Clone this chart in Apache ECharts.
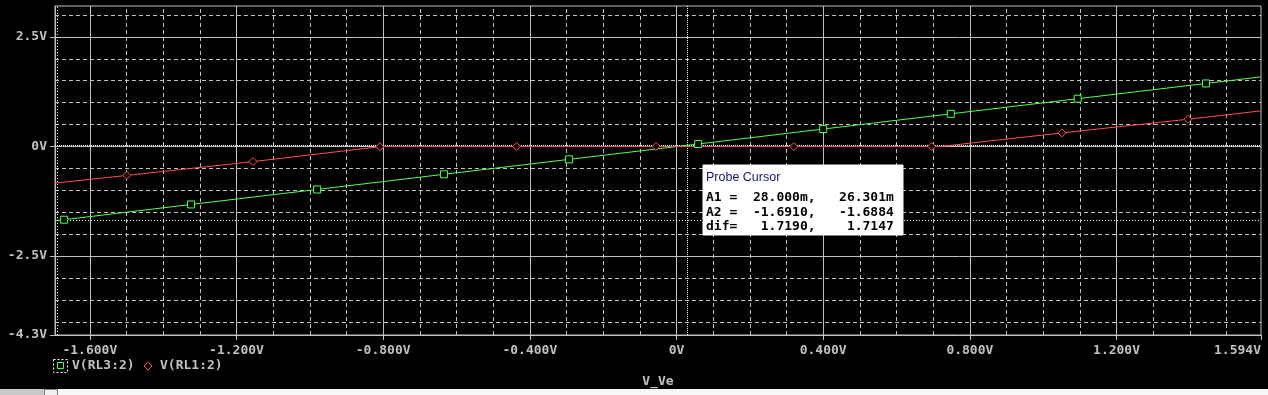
<!DOCTYPE html>
<html>
<head>
<meta charset="utf-8">
<script src="https://cdn.jsdelivr.net/npm/echarts@6/dist/echarts.min.js"></script>
<style>
html,body{margin:0;padding:0;background:#000;}
#chart{width:1268px;height:395px;}
</style>
</head>
<body>
<div id="chart"></div>
<script>
// ---- data ----
const xRange = [-1.695, 1.594];
const yRange = [-4.3, 3.205];
const xTickValues = [-1.6, -1.2, -0.8, -0.4, 0, 0.4, 0.8, 1.2, 1.594];
const yTickValues = [-4.3, -2.5, 0, 2.5];

// V(RL3:2)  (green, square markers)
const greenX = [-1.695, -1.670, -1.324, -0.980, -0.634, -0.293, 0.059, 0.400, 0.748, 1.094, 1.444, 1.594];
const greenY = [-1.692, -1.670, -1.322, -0.980, -0.634, -0.294, 0.057, 0.398, 0.745, 1.090, 1.438, 1.588];
const greenMarkerIdx = [1, 2, 3, 4, 5, 6, 7, 8, 9, 10];

// V(RL1:2)  (red, diamond markers)
const redX = [-1.695, -1.499, -1.155, -0.809, -0.800, -0.436, -0.056, 0.320, 0.696, 0.720, 1.051, 1.395, 1.594];
const redY = [-0.835, -0.660, -0.345, -0.004, 0.000, 0.000, 0.000, 0.000, 0.000, 0.000, 0.310, 0.622, 0.812];
const redMarkerIdx = [1, 2, 3, 5, 6, 7, 8, 10, 11];

// probe cursor values
const cursorA1 = [0.028, 0.026301];
const cursorA2 = [-1.691, -1.6884];
const probeLines = [
  'A1 =  28.000m,   26.301m',
  'A2 =  -1.6910,   -1.6884',
  'dif=   1.7190,    1.7147'
];
const seriesNames = ['V(RL3:2)', 'V(RL1:2)'];
const xAxisName = 'V_Ve';

// ---- styles ----
const GRAY = '#c0c0c0';
const GREEN = '#50ff50';
const RED = '#ff5050';
const MONO = '"DejaVu Sans Mono", "Liberation Mono", monospace';

function buildData(xs, ys, markIdx) {
  return xs.map((x, i) => {
    const item = { value: [x, ys[i]] };
    if (markIdx.indexOf(i) < 0) item.symbol = 'none';
    return item;
  });
}

// grid lines (drawn through the axes via markLine)
const gridLines = [];
for (let k = -16; k <= 15; k++) {
  const v = k / 10;
  const major = (k % 4 === 0);
  gridLines.push({
    xAxis: v,
    lineStyle: major ? { color: GRAY, width: 1, type: 'solid' } : { color: GRAY, width: 1, type: [4, 3] }
  });
}
for (let k = -8; k <= 6; k++) {
  const v = k / 2;
  const major = (k === -5 || k === 0 || k === 5);
  gridLines.push({
    yAxis: v,
    lineStyle: major ? { color: GRAY, width: 1, type: 'solid' } : { color: GRAY, width: 1, type: [4, 3] }
  });
}

const cursorLines = [
  { xAxis: cursorA1[0], lineStyle: { color: '#ffffff', width: 1, type: [1, 1] } },
  { yAxis: cursorA1[1], lineStyle: { color: '#ffffff', width: 1, type: [1, 1] } },
  { xAxis: cursorA2[0], lineStyle: { color: '#ffffff', width: 1, type: [1, 2] } },
  { yAxis: cursorA2[1], lineStyle: { color: '#ffffff', width: 1, type: [1, 2] } }
];

const chart = echarts.init(document.getElementById('chart'), null, { renderer: 'canvas' });

const fmtX = v => (Math.abs(v) < 1e-9 ? '0V' : v.toFixed(3) + 'V');
const fmtY = v => (Math.abs(v) < 1e-9 ? '0V' : v.toFixed(1) + 'V');

const option = {
  backgroundColor: '#000000',
  animation: false,
  grid: {
    left: 55, right: 7, top: 6, bottom: 60,
    show: true, borderColor: GRAY, borderWidth: 1, backgroundColor: 'transparent'
  },
  xAxis: {
    type: 'value',
    min: xRange[0], max: xRange[1],
    name: xAxisName,
    nameLocation: 'middle',
    nameGap: 40,
    nameTextStyle: { color: GRAY, fontFamily: MONO, fontSize: 13, fontWeight: 'bold' },
    axisLine: { show: true, onZero: false, lineStyle: { color: GRAY, width: 1 } },
    axisTick: { show: true, length: 5, lineStyle: { color: GRAY }, customValues: xTickValues },
    axisLabel: {
      color: GRAY, fontFamily: MONO, fontSize: 13, fontWeight: 'bold',
      margin: 9, customValues: xTickValues, formatter: fmtX,
      alignMaxLabel: 'right', showMinLabel: true, showMaxLabel: true
    },
    splitLine: { show: false }
  },
  yAxis: {
    type: 'value',
    min: yRange[0], max: yRange[1],
    axisLine: { show: true, onZero: false, lineStyle: { color: GRAY, width: 1 } },
    axisTick: { show: true, length: 5, lineStyle: { color: GRAY }, customValues: yTickValues },
    axisLabel: {
      color: GRAY, fontFamily: MONO, fontSize: 13, fontWeight: 'bold',
      margin: 8, customValues: yTickValues, formatter: fmtY,
      showMinLabel: true, showMaxLabel: true
    },
    splitLine: { show: false }
  },
  series: [
    {
      name: '_grid', type: 'line', z: 1, silent: true,
      data: [[xRange[0], yRange[0]]], symbol: 'none', lineStyle: { opacity: 0 },
      markLine: { z: 1, silent: true, symbol: ['none', 'none'], label: { show: false }, animation: false, data: gridLines }
    },
    {
      name: '_cursor', type: 'line', z: 2, silent: true,
      data: [[xRange[0], yRange[0]]], symbol: 'none', lineStyle: { opacity: 0 },
      markLine: { z: 2, silent: true, symbol: ['none', 'none'], label: { show: false }, animation: false, data: cursorLines }
    },
    {
      name: seriesNames[0], type: 'line', z: 10,
      data: buildData(greenX, greenY, greenMarkerIdx),
      symbol: 'rect', symbolSize: 7, showAllSymbol: true,
      lineStyle: { color: GREEN, width: 1 },
      itemStyle: { color: '#000000', borderColor: GREEN, borderWidth: 1 }
    },
    {
      name: seriesNames[1], type: 'line', z: 10,
      data: buildData(redX, redY, redMarkerIdx),
      symbol: 'diamond', symbolSize: 8, showAllSymbol: true,
      lineStyle: { color: RED, width: 1 },
      itemStyle: { color: '#000000', borderColor: RED, borderWidth: 1 }
    }
  ],
  graphic: [
    // legend
    { type: 'rect', z: 10, shape: { x: 53.5, y: 359.5, width: 14, height: 13 },
      style: { fill: 'none', stroke: '#ffffff', lineWidth: 1, lineDash: [2, 2] } },
    { type: 'rect', z: 10, shape: { x: 57.5, y: 362.5, width: 6, height: 6 },
      style: { fill: 'none', stroke: GREEN, lineWidth: 1 } },
    { type: 'text', z: 10, x: 72, y: 366,
      style: { text: seriesNames[0], fill: GRAY, font: 'bold 13px ' + MONO, verticalAlign: 'middle', align: 'left' } },
    { type: 'polygon', z: 10, shape: { points: [[148, 362], [152, 366], [148, 370], [144, 366]] },
      style: { fill: 'none', stroke: RED, lineWidth: 1 } },
    { type: 'text', z: 10, x: 160, y: 366,
      style: { text: seriesNames[1], fill: GRAY, font: 'bold 13px ' + MONO, verticalAlign: 'middle', align: 'left' } },
    // bottom window strip
    { type: 'rect', z: 10, shape: { x: 0, y: 389, width: 44, height: 6 }, style: { fill: '#c8c8c8' } },
    { type: 'rect', z: 10, shape: { x: 44.5, y: 389.5, width: 13, height: 6 }, style: { fill: '#f0f0f0', stroke: '#808080' } },
    { type: 'rect', z: 10, shape: { x: 58, y: 389, width: 1210, height: 6 }, style: { fill: '#f7f7f7' } },
    // probe cursor box
    { type: 'rect', z: 50, shape: { x: 703, y: 165, width: 200, height: 70 },
      style: { fill: '#ffffff', stroke: '#ffffff' } },
    { type: 'text', z: 51, x: 706, y: 178,
      style: { text: 'Probe Cursor', fill: '#16166e', font: '12.5px "Liberation Sans", Arial, sans-serif', verticalAlign: 'middle' } },
    { type: 'text', z: 51, x: 706, y: 198,
      style: { text: probeLines[0], fill: '#000000', font: 'bold 13px ' + MONO, verticalAlign: 'middle' } },
    { type: 'text', z: 51, x: 706, y: 213,
      style: { text: probeLines[1], fill: '#000000', font: 'bold 13px ' + MONO, verticalAlign: 'middle' } },
    { type: 'text', z: 51, x: 706, y: 227,
      style: { text: probeLines[2], fill: '#000000', font: 'bold 13px ' + MONO, verticalAlign: 'middle' } }
  ]
};
chart.setOption(option);
</script>
</body>
</html>
